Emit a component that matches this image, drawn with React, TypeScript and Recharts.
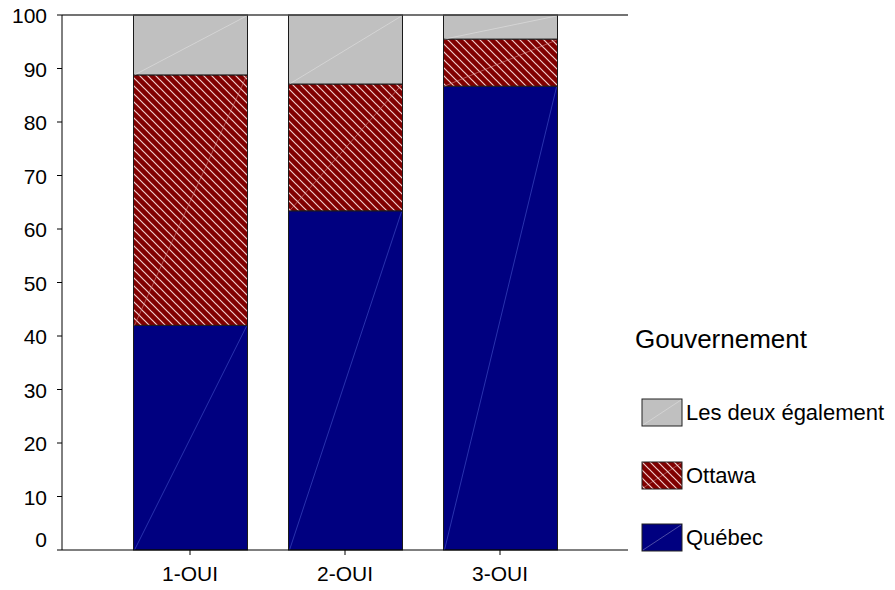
import { BarChart, Bar, XAxis, YAxis, ReferenceLine, Legend } from 'recharts';

// Share (%) of answers per question, stacked bottom -> top
const categories = ['1-OUI', '2-OUI', '3-OUI'];
const quebec = [42.0, 63.4, 86.7];
const ottawa = [46.8, 23.7, 8.8];
const lesDeux = [11.2, 12.9, 4.5];
const yTicks = [0, 10, 20, 30, 40, 50, 60, 70, 80, 90, 100];

const legendTitle = 'Gouvernement';
const FONT = '"Liberation Sans", Arial, sans-serif';

const data = categories.map((name, i) => ({
  name,
  quebec: quebec[i],
  ottawa: ottawa[i],
  lesDeux: lesDeux[i],
}));

const diagColor: Record<string, string> = {
  quebec: '#4a5ad0',
  ottawa: '#d89090',
  lesDeux: '#e4e4e4',
};

// rect with the faint bottom-left -> top-right diagonal seen in the original
const segmentShape = (key: string) => (props: any) => {
  const { x, y, width, height, fill } = props;
  if (!height || height <= 0) return <g />;
  return (
    <g>
      <rect x={x} y={y} width={width} height={height} fill={fill} stroke="#1a1a1a" strokeWidth={1} />
      <line x1={x + 1} y1={y + height} x2={x + width - 1} y2={y + 1} stroke={diagColor[key]} strokeWidth={0.8} opacity={0.7} />
    </g>
  );
};

const YTick = (props: any) => {
  const { x, y, payload } = props;
  const shift = payload.value === 0 ? -10 : 1;
  return (
    <text x={x - 8} y={y + shift} dy="0.355em" textAnchor="end" fill="#000" fontSize={21} fontFamily={FONT}>
      {payload.value}
    </text>
  );
};

const Swatch = ({ fill }: { fill: string }) => (
  <svg width={42} height={29} style={{ position: 'absolute', left: 0, top: 0 }}>
    <rect x={1} y={1} width={40} height={27} fill={fill} stroke="#222" strokeWidth={1} />
    <line x1={2} y1={27} x2={40} y2={2} stroke="#ffffff" strokeWidth={0.6} opacity={0.5} />
  </svg>
);

const LegendContent = (props: any) => {
  const items = props.payload || [];
  return (
    <div style={{ position: 'relative', width: 262, height: 240, fontFamily: FONT, color: '#000' }}>
      <div style={{ position: 'absolute', left: 5, top: 4, fontSize: 26, lineHeight: '30px', whiteSpace: 'nowrap' }}>{legendTitle}</div>
      {items.map((item: any, i: number) => (
        <div key={item.value} style={{ position: 'absolute', left: 11, top: 78 + i * 62.5, height: 29 }}>
          <Swatch fill={item.payload?.fill ?? item.color} />
          <span style={{ position: 'absolute', left: 45, top: 2, fontSize: 22, lineHeight: '26px', whiteSpace: 'nowrap' }}>
            {item.value}
          </span>
        </div>
      ))}
    </div>
  );
};

export default function App() {
  return (
    <div style={{ position: 'absolute', left: 0, top: 0, width: 895, height: 590, background: '#fff', fontFamily: FONT }}>
      <BarChart
        width={895}
        height={590}
        data={data}
        margin={{ top: 15, right: 267, bottom: 10, left: 0 }}
        barCategoryGap={0}
      >
        <defs>
          <pattern id="hatchOttawa" patternUnits="userSpaceOnUse" width={8} height={8}>
            <rect width={8} height={8} fill="#800000" />
            <path d="M0,0 L8,8 M-2,6 L2,10 M6,-2 L10,2" stroke="#f2cccc" strokeWidth={1.2} />
          </pattern>
        </defs>
        <XAxis
          dataKey="name"
          padding={{ left: 50.5, right: 50.5 }}
          axisLine={{ stroke: '#000' }}
          tickLine={{ stroke: '#000' }}
          tickSize={5}
          tickMargin={11}
          tick={{ fill: '#000', fontSize: 21, fontFamily: FONT }}
          height={30}
        />
        <YAxis
          domain={[0, 100]}
          ticks={yTicks}
          width={62}
          axisLine={{ stroke: '#000' }}
          tickLine={{ stroke: '#000' }}
          tickSize={5}
          tick={<YTick />}
          interval={0}
        />
        <YAxis yAxisId="frame" orientation="right" domain={[0, 100]} width={0} tick={false} tickLine={false} axisLine={{ stroke: '#222' }} />
        <ReferenceLine y={100} stroke="#444" strokeWidth={1.5} />
        <Legend
          layout="vertical"
          align="center"
          verticalAlign="middle"
          content={<LegendContent />}
          wrapperStyle={{ left: 630, top: 320, width: 262, height: 240 }}
        />
        <Bar dataKey="quebec" name="Québec" stackId="a" fill="#000080" barSize={114} shape={segmentShape('quebec')} isAnimationActive={false} />
        <Bar dataKey="ottawa" name="Ottawa" stackId="a" fill="url(#hatchOttawa)" barSize={114} shape={segmentShape('ottawa')} isAnimationActive={false} />
        <Bar dataKey="lesDeux" name="Les deux également" stackId="a" fill="#c0c0c0" barSize={114} shape={segmentShape('lesDeux')} isAnimationActive={false} />
      </BarChart>
    </div>
  );
}
